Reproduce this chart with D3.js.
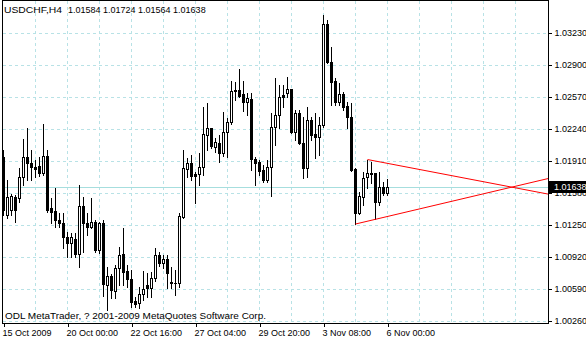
<!DOCTYPE html>
<html><head><meta charset="utf-8">
<script src="https://cdn.jsdelivr.net/npm/d3@7/dist/d3.min.js"></script>
<style>
html,body{margin:0;padding:0;background:#fff;}
svg{display:block;}
text{font-family:"Liberation Sans",Arial,sans-serif;font-size:9px;fill:#000;}
</style></head>
<body>
<script>
// ---- data (USDCHF, H4) ----
const symbolTitle = "USDCHF,H4";
const open = [1.01951,1.01353,1.01405,1.01539,1.01528,1.01745,1.01951,1.01889,1.01848,1.01858,
1.01786,1.01962,1.01425,1.01394,1.01302,1.01271,1.01126,1.01064,1.01106,1.00951,
1.01446,1.01271,1.01229,1.01281,1.00992,1.01271,1.00631,1.00724,1.00569,1.00807,
1.00951,1.00776,1.00693,1.00466,1.00446,1.00538,1.00631,1.00600,1.00703,1.00941,
1.00858,1.00899,1.00662,1.00652,1.00652,1.01332,1.01828,1.01889,1.01776,1.01776,
1.01848,1.02178,1.02250,1.02054,1.02096,1.01992,1.02209,1.02312,1.02632,1.02642,
1.02601,1.02518,1.02549,1.01931,1.01900,1.01817,1.01714,1.01848,1.02261,1.02384,
1.02591,1.02611,1.02652,1.02209,1.02405,1.02096,1.01838,1.02333,1.02188,1.02157,
1.02281,1.03323,1.02931,1.02735,1.02518,1.02601,1.02477,1.02364,1.01828,1.01374,
1.01539,1.01745,1.01786,1.01786,1.01487,1.01642,1.01584];
const high = [1.02023,1.01714,1.01570,1.01559,1.01838,1.02137,1.02250,1.02023,1.01920,1.01951,
1.02292,1.02023,1.01528,1.01632,1.01374,1.01374,1.01178,1.01167,1.01167,1.01662,
1.01539,1.01374,1.01528,1.01302,1.01281,1.01302,1.00817,1.00745,1.00838,1.01023,
1.01219,1.00838,1.00786,1.00507,1.00611,1.00776,1.00755,1.00765,1.01013,1.00972,
1.00941,1.00941,1.00817,1.00786,1.01374,1.02023,1.01941,1.01972,1.01797,1.01992,
1.02467,1.02508,1.02250,1.02147,1.02178,1.02415,1.02353,1.02735,1.02725,1.02859,
1.02735,1.02611,1.02611,1.01951,1.01920,1.01869,1.01920,1.02405,1.02766,1.02694,
1.02694,1.02776,1.02652,1.02436,1.02436,1.02364,1.02467,1.02364,1.02405,1.02364,
1.03416,1.03364,1.03086,1.02766,1.02714,1.02622,1.02518,1.02508,1.01838,1.01590,
1.01797,1.01920,1.01900,1.01786,1.01797,1.01693,1.01724];
const low = [1.01353,1.01322,1.01353,1.01281,1.01487,1.01662,1.01714,1.01714,1.01745,1.01755,
1.01766,1.01384,1.01271,1.01229,1.01229,1.01013,1.00920,1.00920,1.00920,1.00817,
1.00972,1.01147,1.01219,1.00972,1.00961,1.00518,1.00373,1.00497,1.00497,1.00631,
1.00631,1.00611,1.00404,1.00404,1.00394,1.00477,1.00507,1.00507,1.00673,1.00827,
1.00807,1.00600,1.00600,1.00528,1.00611,1.01322,1.01745,1.01714,1.01477,1.01662,
1.01766,1.02023,1.02044,1.02003,1.01900,1.01962,1.01951,1.02292,1.02539,1.02570,
1.02426,1.02384,1.01817,1.01662,1.01766,1.01693,1.01693,1.01549,1.02075,1.02250,
1.02467,1.02570,1.02199,1.02127,1.02090,1.01735,1.01745,1.02127,1.01941,1.01972,
1.02261,1.02921,1.02488,1.02488,1.02488,1.02436,1.02250,1.01810,1.01260,1.01363,
1.01456,1.01632,1.01683,1.01312,1.01456,1.01559,1.01564];
const close = [1.01405,1.01539,1.01549,1.01405,1.01745,1.01951,1.01889,1.01848,1.01828,1.01786,
1.01962,1.01405,1.01384,1.01302,1.01271,1.01126,1.01064,1.01126,1.00951,1.01446,
1.01271,1.01229,1.01281,1.00992,1.01271,1.00642,1.00724,1.00580,1.00807,1.00941,
1.00765,1.00693,1.00456,1.00435,1.00538,1.00590,1.00600,1.00703,1.00941,1.00858,
1.00899,1.00755,1.00652,1.00650,1.01343,1.01838,1.01889,1.01755,1.01755,1.01848,
1.02188,1.02250,1.02065,1.02106,1.01992,1.02209,1.02312,1.02632,1.02642,1.02580,
1.02518,1.02560,1.01931,1.01889,1.01807,1.01714,1.01848,1.02261,1.02384,1.02570,
1.02570,1.02652,1.02209,1.02405,1.02096,1.01838,1.02333,1.02178,1.02157,1.02281,
1.03323,1.02931,1.02725,1.02518,1.02601,1.02467,1.02364,1.01817,1.01374,1.01549,
1.01735,1.01786,1.01776,1.01487,1.01642,1.01580,1.01638];
const priceTicks = [1.03230,1.02900,1.02570,1.02240,1.01910,1.01580,1.01250,1.00920,1.00590,1.00260];
const timeTickBars = [0,16,32,48,64,80,96];
const timeTickLabels = ["15 Oct 2009","20 Oct 00:00","22 Oct 16:00","27 Oct 04:00","29 Oct 20:00","3 Nov 08:00","6 Nov 00:00"];
const gridBars = [8,16,24,32,40,48,56,64,72,80,88,96,104,112,120,128];
const bidPrice = 1.01638;
const trendUpper = [[91,1.01925],[136.25,1.01568]];
const trendLower = [[88,1.01260],[136.25,1.01730]];
const copyright = "ODL MetaTrader, ? 2001-2009 MetaQuotes Software Corp.";

// ---- layout ----
const W = 586, H = 340;
const L = 2.5, R = 548.5, T = 0.5, B = 323.5;

const svg = d3.select("body").append("svg").attr("width", W).attr("height", H);

const x = d3.scaleLinear().domain([0, 136.25]).range([3.5, 548.5]);
const y = d3.scaleLinear().domain([1.00260, 1.03230]).range([321, 33]);
const py = v => Math.round(y(v)) + 0.5;

const grid = svg.append("g").attr("shape-rendering", "crispEdges");
grid.selectAll("line.h").data(priceTicks).join("line")
  .attr("x1", L).attr("x2", R).attr("y1", d => py(d)).attr("y2", d => py(d))
  .attr("stroke", "#b8e2e6").attr("stroke-dasharray", "3,3");
grid.selectAll("line.v").data(gridBars).join("line")
  .attr("x1", d => x(d)).attr("x2", d => x(d)).attr("y1", T).attr("y2", B)
  .attr("stroke", "#b8e2e6").attr("stroke-dasharray", "3,3");

// bid line
svg.append("line").attr("shape-rendering", "crispEdges")
  .attr("x1", L).attr("x2", R).attr("y1", py(bidPrice)).attr("y2", py(bidPrice))
  .attr("stroke", "#a6dede");

// candles
const bars = d3.range(open.length).map(i => ({i, o: open[i], h: high[i], l: low[i], c: close[i]}));
const cg = svg.append("g").attr("shape-rendering", "crispEdges");
cg.selectAll("line.wick").data(bars).join("line")
  .attr("x1", d => x(d.i)).attr("x2", d => x(d.i))
  .attr("y1", d => Math.round(y(d.h))).attr("y2", d => Math.round(y(d.l)) + 1)
  .attr("stroke", "#000");
cg.selectAll("g.body").data(bars).join(g => g.append("g")).each(function(d) {
  const g = d3.select(this);
  const yo = Math.round(y(d.o)), yc = Math.round(y(d.c));
  const top = Math.min(yo, yc), bot = Math.max(yo, yc);
  const cx = x(d.i);
  if (bot - top < 1) {
    g.append("line").attr("x1", cx - 1.5).attr("x2", cx + 1.5)
      .attr("y1", top + 0.5).attr("y2", top + 0.5).attr("stroke", "#000");
  } else {
    g.append("rect").attr("x", cx - 1).attr("width", 2)
      .attr("y", top + 0.5).attr("height", bot - top)
      .attr("fill", d.c >= d.o ? "#fff" : "#000").attr("stroke", "#000");
  }
});

// trend lines
svg.append("clipPath").attr("id", "plot").append("rect")
  .attr("x", L).attr("y", T).attr("width", R - L).attr("height", B - T);
const line = d3.line().x(d => x(d[0])).y(d => y(d[1]));
[trendUpper, trendLower].forEach(t => {
  svg.append("path").attr("d", line(t)).attr("fill", "none")
    .attr("stroke", "#ff0000").attr("stroke-width", 1).attr("clip-path", "url(#plot)");
});

// frame
svg.append("rect").attr("x", L).attr("y", T).attr("width", R - L).attr("height", B - T)
  .attr("fill", "none").attr("stroke", "#000").attr("shape-rendering", "crispEdges");

// price axis
const ya = svg.append("g").attr("transform", `translate(${R},0)`)
  .call(d3.axisRight(y).tickValues(priceTicks).tickFormat(d3.format(".5f")).tickSize(3).tickPadding(3));
ya.select(".domain").remove();
ya.selectAll(".tick line").attr("stroke", "#000").attr("shape-rendering", "crispEdges");
ya.selectAll("text").attr("font-family", null).attr("font-size", null);

// bid label
const bg = svg.append("g");
bg.append("rect").attr("x", 549).attr("y", Math.round(y(bidPrice)) - 6).attr("width", 37).attr("height", 12)
  .attr("fill", "#000");
bg.append("text").attr("x", 554).attr("y", y(bidPrice)).attr("dy", "0.32em")
  .style("fill", "#fff").text(d3.format(".5f")(bidPrice));

// time axis
const xa = svg.append("g").attr("transform", `translate(0,${B - 0.5})`)
  .call(d3.axisBottom(x).tickValues(timeTickBars).tickFormat((d, i) => timeTickLabels[i]).tickSize(4).tickPadding(3));
xa.select(".domain").remove();
xa.selectAll(".tick line").attr("stroke", "#000").attr("shape-rendering", "crispEdges");
xa.selectAll("text").attr("font-family", null).attr("font-size", null)
  .attr("text-anchor", "start").attr("dx", -1.5);

// header and copyright
svg.append("text").attr("x", 4).attr("y", 13)
  .attr("textLength", 58).attr("lengthAdjust", "spacingAndGlyphs").text(symbolTitle);
svg.append("text").attr("x", 68).attr("y", 13)
  .text([open, high, low, close].map(a => a[a.length - 1].toFixed(5)).join(" "));
svg.append("text").attr("x", 5).attr("y", 319)
  .attr("textLength", 261).attr("lengthAdjust", "spacingAndGlyphs").text(copyright);
</script>
</body></html>
